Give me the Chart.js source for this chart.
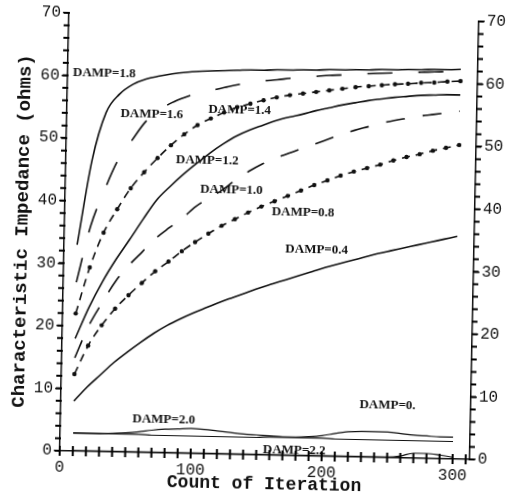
<!DOCTYPE html>
<html>
<head>
<meta charset="utf-8">
<script src="https://cdn.jsdelivr.net/npm/chart.js"></script>
<style>
  html, body { margin: 0; padding: 0; background: #fff; }
  #wrap { width: 524px; height: 498px; overflow: hidden; }
  /* the scanned figure is tilted a little clockwise */
  #impChart { display: block; transform: rotate(1.2deg); transform-origin: 262px 249px; }
</style>
</head>
<body>
<div id="wrap"><canvas id="impChart" width="524" height="498"></canvas></div>
<script>
// Iteration counts where every curve was sampled
const iterations = [10, 20, 30, 40, 50, 60, 70, 80, 90, 100, 110, 120, 130, 140, 150,
                    160, 170, 180, 190, 200, 210, 220, 230, 240, 250, 260, 270, 280, 290, 300];

// Characteristic impedance (ohms) for each damping factor
const damp18 = [33.0, 46.5, 54.2, 57.2, 58.8, 59.7, 60.2, 60.6, 60.9, 61.1, 61.2, 61.3, 61.4, 61.5, 61.5,
                61.6, 61.6, 61.7, 61.7, 61.8, 61.8, 61.9, 61.9, 62.0, 62.0, 62.1, 62.1, 62.2, 62.2, 62.3];
const damp16 = [27.0, 36.0, 41.8, 46.7, 49.8, 52.8, 54.7, 56.0, 56.9, 57.6, 58.1, 58.6, 59.1, 59.5, 59.8,
                60.0, 60.3, 60.5, 60.7, 60.9, 61.0, 61.2, 61.3, 61.4, 61.5, 61.6, 61.7, 61.8, 61.9, 62.0];
const damp14 = [22.0, 29.4, 35.0, 38.8, 42.2, 44.8, 47.1, 49.2, 51.0, 52.5, 53.6, 54.6, 55.5, 56.1, 56.7,
                57.2, 57.6, 57.9, 58.2, 58.5, 58.8, 59.1, 59.3, 59.5, 59.7, 59.8, 60.0, 60.1, 60.3, 60.4];
const damp12 = [18.0, 23.0, 27.2, 30.8, 34.0, 37.3, 40.4, 42.6, 44.6, 46.4, 48.1, 49.6, 50.9, 51.9, 52.7,
                53.5, 54.1, 54.6, 55.2, 55.7, 56.2, 56.6, 57.0, 57.3, 57.6, 57.8, 58.0, 58.1, 58.2, 58.2];
const damp10 = [14.9, 20.0, 23.8, 27.3, 29.9, 32.1, 34.3, 36.0, 37.6, 39.5, 40.9, 42.2, 43.9, 45.3, 46.5,
                47.5, 48.3, 49.1, 49.9, 50.7, 51.5, 52.2, 52.8, 53.4, 53.9, 54.3, 54.7, 55.0, 55.3, 55.6];
const damp08 = [12.3, 16.9, 20.2, 22.9, 25.1, 27.1, 29.0, 30.6, 32.3, 33.8, 35.2, 36.5, 37.6, 38.7, 39.7,
                40.6, 41.5, 42.4, 43.3, 44.1, 44.9, 45.6, 46.2, 46.8, 47.5, 48.1, 48.6, 49.2, 49.7, 50.2];
const damp04 = [8.0, 10.3, 12.3, 14.3, 16.0, 17.6, 19.1, 20.4, 21.5, 22.5, 23.4, 24.3, 25.1, 25.9, 26.7,
                27.4, 28.1, 28.8, 29.5, 30.2, 30.8, 31.4, 32.0, 32.6, 33.1, 33.6, 34.1, 34.6, 35.1, 35.6];
const damp20 = [2.9, 2.9, 2.9, 3.0, 3.1, 3.3, 3.6, 3.8, 3.9, 4.0, 3.9, 3.7, 3.5, 3.3, 3.2,
                3.1, 3.0, 3.0, 3.1, 3.3, 3.7, 4.0, 4.1, 4.1, 4.1, 3.9, 3.7, 3.6, 3.5, 3.5];
const damp00 = [2.9, 2.9, 2.9, 2.9, 2.9, 2.9, 2.8, 2.8, 2.8, 2.8, 2.8, 2.8, 2.8, 2.8, 2.8,
                2.9, 2.9, 2.9, 2.9, 2.9, 2.8, 2.8, 2.8, 2.8, 2.8, 2.8, 2.8, 2.8, 2.8, 2.8];
const damp22 = [0.1, 0.1, 0.1, 0.1, 0.1, 0.1, 0.1, 0.1, 0.1, 0.1, 0.1, 0.1, 0.1, 0.1, 0.1,
                0.1, 0.1, 0.1, 0.1, 0.1, 0.1, 0.1, 0.1, 0.1, 0.1, 0.3, 0.8, 0.8, 0.6, 0.3];

// Curve labels written inside the plot, anchored in data units
const curveLabels = ['DAMP=1.8', 'DAMP=1.6', 'DAMP=1.4', 'DAMP=1.2', 'DAMP=1.0',
                     'DAMP=0.8', 'DAMP=0.4', 'DAMP=2.0', 'DAMP=0.', 'DAMP=2.2'];
const labelX = [4, 41, 108, 84, 103, 158, 169, 55, 228, 155];
const labelY = [59.9, 53.5, 54.5, 46.4, 41.7, 38.4, 32.4, 4.8, 7.9, 0.3];

// Small tick marks: every 10 iterations, every 2 ohms
const xMinor = [];
for (let v = 0; v <= 310; v += 10) xMinor.push(v);
const yMinor = [];
for (let v = 0; v <= 70; v += 2) yMinor.push(v);

const yTicks = (v) => (v % 10 === 0 ? v : '');
const xTicks = (v) => (v % 100 === 0 ? v : '');

function series(values) {
    return iterations.map((x, i) => ({ x: x, y: values[i] }));
}

function curve(label, values, extra) {
    return Object.assign({
        label: label,
        data: series(values),
        borderColor: '#111',
        backgroundColor: '#111',
        borderWidth: 1.6,
        pointRadius: 0,
        fill: false,
        cubicInterpolationMode: 'monotone'
    }, extra || {});
}

// Curve names and the minor tick marks
const annotatePlugin = {
    id: 'annotate',
    beforeDatasetsDraw(chart) {
        const ctx = chart.ctx;
        const xs = chart.scales.x;
        const ys = chart.scales.y;
        ctx.save();
        ctx.fillStyle = '#111';
        ctx.font = 'bold 13px "Liberation Serif"';
        ctx.textAlign = 'left';
        ctx.textBaseline = 'alphabetic';
        curveLabels.forEach((txt, i) => {
            ctx.fillText(txt, xs.getPixelForValue(labelX[i]), ys.getPixelForValue(labelY[i]));
        });
        ctx.restore();
    },
    afterDatasetsDraw(chart) {
        const ctx = chart.ctx;
        const xs = chart.scales.x;
        const ys = chart.scales.y;
        const area = chart.chartArea;
        ctx.save();
        ctx.strokeStyle = '#000';
        ctx.lineWidth = 2;
        ctx.beginPath();
        xMinor.forEach(v => {
            const px = xs.getPixelForValue(v);
            ctx.moveTo(px, area.bottom - 5);
            ctx.lineTo(px, area.bottom + 5);
        });
        yMinor.forEach(v => {
            const py = ys.getPixelForValue(v);
            ctx.moveTo(area.left - 5, py);
            ctx.lineTo(area.left + 1, py);
            ctx.moveTo(area.right - 1, py);
            ctx.lineTo(area.right + 5, py);
        });
        ctx.stroke();
        ctx.restore();
    }
};

const tickFont = { family: '"Liberation Mono"', size: 16 };
const titleFont = { family: '"Liberation Mono"', size: 19, weight: 'bold' };

function yAxis(position, width, showTitle) {
    return {
        type: 'linear',
        position: position,
        min: 0,
        max: 70,
        border: { display: true, color: '#111', width: 1.5 },
        grid: { drawOnChartArea: false, tickLength: 6, color: '#111', lineWidth: 1.4 },
        ticks: { stepSize: 10, callback: yTicks, color: '#111', font: tickFont, padding: 2 },
        title: {
            display: showTitle,
            text: 'Characteristic Impedance (ohms)',
            color: '#111',
            font: titleFont,
            padding: { top: 11, bottom: 0 }
        },
        afterFit(scale) { scale.width = width; }
    };
}

new Chart(document.getElementById('impChart'), {
    type: 'line',
    data: {
        datasets: [
            curve('DAMP=1.8', damp18),
            curve('DAMP=1.6', damp16, { borderDash: [25, 26] }),
            curve('DAMP=1.4', damp14, { borderDash: [8, 6], pointRadius: 2.2, pointBorderWidth: 0 }),
            curve('DAMP=1.2', damp12),
            curve('DAMP=1.0', damp10, { borderDash: [19, 18] }),
            curve('DAMP=0.8', damp08, { borderDash: [8, 6], pointRadius: 2.2, pointBorderWidth: 0 }),
            curve('DAMP=0.4', damp04),
            curve('DAMP=2.0', damp20, { borderWidth: 1.2 }),
            curve('DAMP=0.', damp00, { borderWidth: 1.2 }),
            curve('DAMP=2.2', damp22, { borderWidth: 1.2 })
        ]
    },
    options: {
        responsive: false,
        animation: false,
        devicePixelRatio: 1,
        layout: { padding: { top: 17, left: 0, right: 0, bottom: 0 } },
        plugins: {
            legend: { display: false },
            tooltip: { enabled: false }
        },
        scales: {
            x: {
                type: 'linear',
                position: 'bottom',
                min: 0,
                max: 313,
                border: { display: true, color: '#111', width: 1.5 },
                grid: { drawOnChartArea: false, tickLength: 4, color: '#111', lineWidth: 1.4 },
                ticks: {
                    stepSize: 100,
                    includeBounds: false,
                    maxRotation: 0,
                    callback: xTicks,
                    color: '#111',
                    font: tickFont,
                    padding: 3
                },
                title: {
                    display: true,
                    text: 'Count of Iteration',
                    color: '#111',
                    font: { family: '"Liberation Mono"', size: 18, weight: 'bold' },
                    padding: { top: 0, bottom: 3 }
                },
                afterFit(scale) { scale.height = 43; }
            },
            y: yAxis('left', 64, true),
            y2: yAxis('right', 50, false)
        }
    },
    plugins: [annotatePlugin]
});
</script>
</body>
</html>
